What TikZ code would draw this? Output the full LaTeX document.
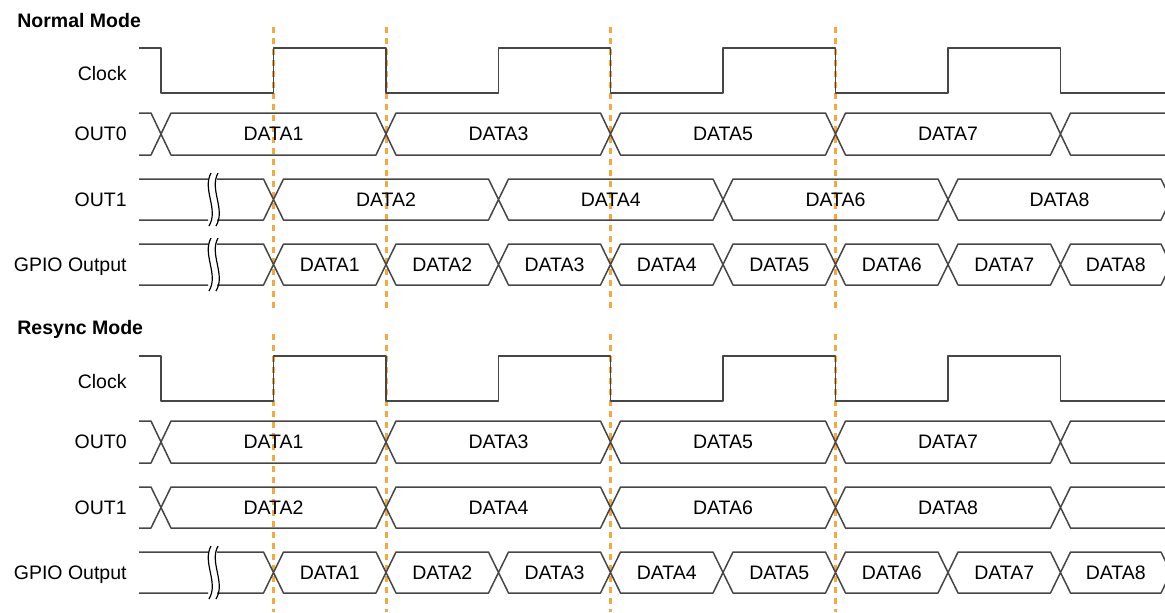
\documentclass[tikz,border=0pt]{standalone}
\usepackage{fontspec}
\setmainfont{Liberation Sans}
\definecolor{guideorange}{RGB}{247,170,60}
\definecolor{wavegray}{RGB}{70,70,70}
\begin{document}
\begin{tikzpicture}[x=0.5pt,y=-0.5pt,
    wave/.style={draw=wavegray,line width=0.75pt,line join=round},
    guide/.style={draw=guideorange,line width=1.5pt,dash pattern=on 3pt off 2.5pt},
    brk/.style={draw=black,line width=0.6pt},
    txt/.style={inner sep=0pt,anchor=base,font=\fontsize{9.75}{12}\selectfont},
    lbl/.style={inner sep=0pt,anchor=base east,font=\fontsize{9.75}{12}\selectfont},
    ttl/.style={inner sep=0pt,anchor=base west,font=\fontsize{9.75}{12}\selectfont\bfseries}]
  \clip (0,0) rectangle (1165,612);
  % guides
  \draw[guide] (273.5,27) -- (273.5,309) (273.5,334) -- (273.5,612);
  \draw[guide] (386,27) -- (386,309) (386,334) -- (386,612);
  \draw[guide] (610.5,27) -- (610.5,309) (610.5,334) -- (610.5,612);
  \draw[guide] (835.5,27) -- (835.5,309) (835.5,334) -- (835.5,612);

  % normal mode
  \node[ttl] (tN) at (17,27) {Normal Mode};
  \node[lbl] (clkN) at (127,80) {Clock};
  \node[lbl] (o0N) at (127,140.5) {OUT0};
  \node[lbl] (o1N) at (127,206) {OUT1};
  \node[lbl] (gpN) at (127,271) {GPIO Output};
  \draw[wave] (139,48) -- (161,48) -- (161,93) -- (273.5,93) -- (273.5,48)
    -- (386,48) -- (386,93) -- (498.5,93) -- (498.5,48) -- (610.5,48)
    -- (610.5,93) -- (723,93) -- (723,48) -- (835.5,48) -- (835.5,93)
    -- (948,93) -- (948,48) -- (1060.5,48) -- (1060.5,93) -- (1170,93);
  \draw[wave]
    (139,113) -- (151,113) -- (161,134) -- (151,155) -- (139,155)
    (161,134) -- (171,113) -- (376,113) -- (386,134) -- (376,155) -- (171,155) -- cycle
    (273.5,140.5) node[txt] (a1) {DATA1}
    (386,134) -- (396,113) -- (600.5,113) -- (610.5,134) -- (600.5,155) -- (396,155) -- cycle
    (498.5,140.5) node[txt] (a3) {DATA3}
    (610.5,134) -- (620.5,113) -- (825.5,113) -- (835.5,134) -- (825.5,155) -- (620.5,155) -- cycle
    (723,140.5) node[txt] (a5) {DATA5}
    (835.5,134) -- (845.5,113) -- (1050.5,113) -- (1060.5,134) -- (1050.5,155) -- (845.5,155) -- cycle
    (948,140.5) node[txt] (a7) {DATA7}
    (1170,113) -- (1070.5,113) -- (1060.5,134) -- (1070.5,155) -- (1170,155);
  \draw[wave]
    (139,179) -- (208,179) (139,220) -- (208,220)
    (217,179) -- (263.5,179) -- (273.5,199.5) -- (263.5,220) -- (217,220)
    (273.5,199.5) -- (283.5,179) -- (488.5,179) -- (498.5,199.5) -- (488.5,220) -- (283.5,220) -- cycle
    (386,206) node[txt] (b2) {DATA2}
    (498.5,199.5) -- (508.5,179) -- (713,179) -- (723,199.5) -- (713,220) -- (508.5,220) -- cycle
    (610.75,206) node[txt] (b4) {DATA4}
    (723,199.5) -- (733,179) -- (938,179) -- (948,199.5) -- (938,220) -- (733,220) -- cycle
    (835.5,206) node[txt] (b6) {DATA6}
    (948,199.5) -- (958,179) -- (1161,179) -- (1171,199.5) -- (1161,220) -- (958,220) -- cycle
    (1059.5,206) node[txt] (b8) {DATA8};
  \draw[brk] (211,173) .. controls (202,189.5) and (219,209.5) .. (209,226);
  \draw[brk] (218,173) .. controls (209,189.5) and (226,209.5) .. (216,226);
  \draw[wave]
    (139,244) -- (208,244) (139,285) -- (208,285)
    (217,244) -- (263.5,244) -- (273.5,264.5) -- (263.5,285) -- (217,285)
    (273.5,264.5) -- (283.5,244) -- (376,244) -- (386,264.5) -- (376,285) -- (283.5,285) -- cycle
    (329.75,271) node[txt] (c1) {DATA1}
    (386,264.5) -- (396,244) -- (488.5,244) -- (498.5,264.5) -- (488.5,285) -- (396,285) -- cycle
    (442.25,271) node[txt] (c2) {DATA2}
    (498.5,264.5) -- (508.5,244) -- (600.5,244) -- (610.5,264.5) -- (600.5,285) -- (508.5,285) -- cycle
    (554.5,271) node[txt] (c3) {DATA3}
    (610.5,264.5) -- (620.5,244) -- (713,244) -- (723,264.5) -- (713,285) -- (620.5,285) -- cycle
    (666.75,271) node[txt] (c4) {DATA4}
    (723,264.5) -- (733,244) -- (825.5,244) -- (835.5,264.5) -- (825.5,285) -- (733,285) -- cycle
    (779.25,271) node[txt] (c5) {DATA5}
    (835.5,264.5) -- (845.5,244) -- (938,244) -- (948,264.5) -- (938,285) -- (845.5,285) -- cycle
    (891.75,271) node[txt] (c6) {DATA6}
    (948,264.5) -- (958,244) -- (1050.5,244) -- (1060.5,264.5) -- (1050.5,285) -- (958,285) -- cycle
    (1004.25,271) node[txt] (c7) {DATA7}
    (1060.5,264.5) -- (1070.5,244) -- (1161,244) -- (1171,264.5) -- (1161,285) -- (1070.5,285) -- cycle
    (1115.75,271) node[txt] (c8) {DATA8};
  \draw[brk] (211,238) .. controls (202,254.5) and (219,274.5) .. (209,291);
  \draw[brk] (218,238) .. controls (209,254.5) and (226,274.5) .. (216,291);

  % resync mode
  \node[ttl] (tR) at (17,334) {Resync Mode};
  \node[lbl] (clkR) at (127,388) {Clock};
  \node[lbl] (o0R) at (127,448.5) {OUT0};
  \node[lbl] (o1R) at (127,514) {OUT1};
  \node[lbl] (gpR) at (127,579) {GPIO Output};
  \draw[wave] (139,356) -- (161,356) -- (161,401) -- (273.5,401) -- (273.5,356)
    -- (386,356) -- (386,401) -- (498.5,401) -- (498.5,356) -- (610.5,356)
    -- (610.5,401) -- (723,401) -- (723,356) -- (835.5,356) -- (835.5,401)
    -- (948,401) -- (948,356) -- (1060.5,356) -- (1060.5,401) -- (1170,401);
  \draw[wave]
    (139,421) -- (151,421) -- (161,442) -- (151,463) -- (139,463)
    (161,442) -- (171,421) -- (376,421) -- (386,442) -- (376,463) -- (171,463) -- cycle
    (273.5,448.5) node[txt] (d1) {DATA1}
    (386,442) -- (396,421) -- (600.5,421) -- (610.5,442) -- (600.5,463) -- (396,463) -- cycle
    (498.5,448.5) node[txt] (d3) {DATA3}
    (610.5,442) -- (620.5,421) -- (825.5,421) -- (835.5,442) -- (825.5,463) -- (620.5,463) -- cycle
    (723,448.5) node[txt] (d5) {DATA5}
    (835.5,442) -- (845.5,421) -- (1050.5,421) -- (1060.5,442) -- (1050.5,463) -- (845.5,463) -- cycle
    (948,448.5) node[txt] (d7) {DATA7}
    (1170,421) -- (1070.5,421) -- (1060.5,442) -- (1070.5,463) -- (1170,463);
  \draw[wave]
    (139,487) -- (151,487) -- (161,507.5) -- (151,528) -- (139,528)
    (161,507.5) -- (171,487) -- (376,487) -- (386,507.5) -- (376,528) -- (171,528) -- cycle
    (273.5,514) node[txt] (e2) {DATA2}
    (386,507.5) -- (396,487) -- (600.5,487) -- (610.5,507.5) -- (600.5,528) -- (396,528) -- cycle
    (498.5,514) node[txt] (e4) {DATA4}
    (610.5,507.5) -- (620.5,487) -- (825.5,487) -- (835.5,507.5) -- (825.5,528) -- (620.5,528) -- cycle
    (723,514) node[txt] (e6) {DATA6}
    (835.5,507.5) -- (845.5,487) -- (1050.5,487) -- (1060.5,507.5) -- (1050.5,528) -- (845.5,528) -- cycle
    (948,514) node[txt] (e8) {DATA8}
    (1170,487) -- (1070.5,487) -- (1060.5,507.5) -- (1070.5,528) -- (1170,528);
  \draw[wave]
    (139,552) -- (208,552) (139,593) -- (208,593)
    (217,552) -- (263.5,552) -- (273.5,572.5) -- (263.5,593) -- (217,593)
    (273.5,572.5) -- (283.5,552) -- (376,552) -- (386,572.5) -- (376,593) -- (283.5,593) -- cycle
    (329.75,579) node[txt] (f1) {DATA1}
    (386,572.5) -- (396,552) -- (488.5,552) -- (498.5,572.5) -- (488.5,593) -- (396,593) -- cycle
    (442.25,579) node[txt] (f2) {DATA2}
    (498.5,572.5) -- (508.5,552) -- (600.5,552) -- (610.5,572.5) -- (600.5,593) -- (508.5,593) -- cycle
    (554.5,579) node[txt] (f3) {DATA3}
    (610.5,572.5) -- (620.5,552) -- (713,552) -- (723,572.5) -- (713,593) -- (620.5,593) -- cycle
    (666.75,579) node[txt] (f4) {DATA4}
    (723,572.5) -- (733,552) -- (825.5,552) -- (835.5,572.5) -- (825.5,593) -- (733,593) -- cycle
    (779.25,579) node[txt] (f5) {DATA5}
    (835.5,572.5) -- (845.5,552) -- (938,552) -- (948,572.5) -- (938,593) -- (845.5,593) -- cycle
    (891.75,579) node[txt] (f6) {DATA6}
    (948,572.5) -- (958,552) -- (1050.5,552) -- (1060.5,572.5) -- (1050.5,593) -- (958,593) -- cycle
    (1004.25,579) node[txt] (f7) {DATA7}
    (1060.5,572.5) -- (1070.5,552) -- (1161,552) -- (1171,572.5) -- (1161,593) -- (1070.5,593) -- cycle
    (1115.75,579) node[txt] (f8) {DATA8};
  \draw[brk] (211,546) .. controls (202,562.5) and (219,582.5) .. (209,599);
  \draw[brk] (218,546) .. controls (209,562.5) and (226,582.5) .. (216,599);
\end{tikzpicture}
\end{document}
